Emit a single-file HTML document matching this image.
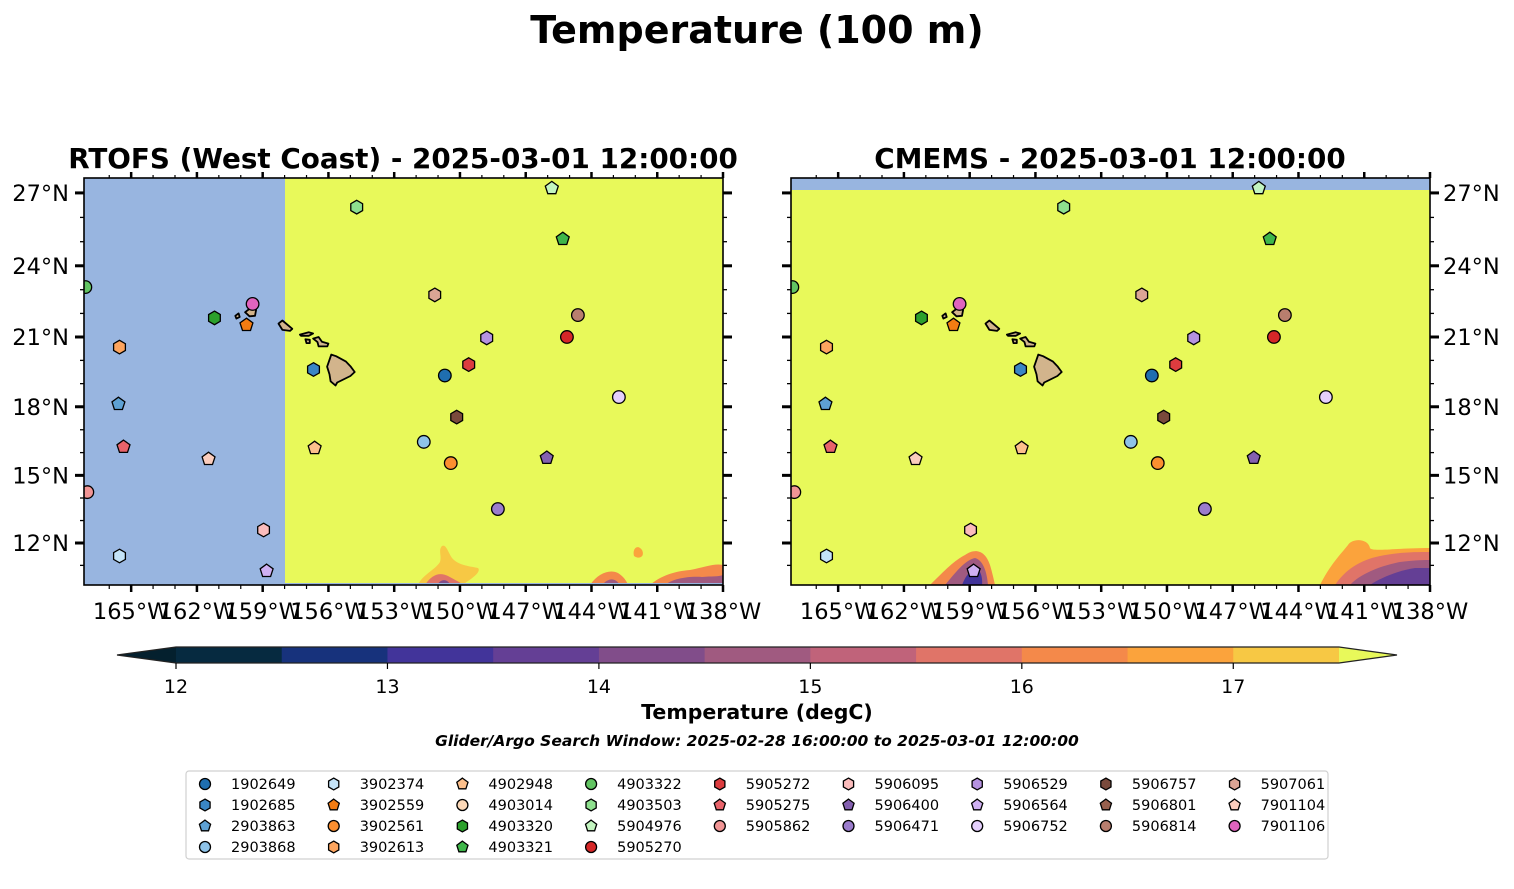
<!DOCTYPE html>
<html><head><meta charset="utf-8">
<style>
body{margin:0;background:#fff;}
svg{display:block;font-family:"DejaVu Sans","Liberation Sans",sans-serif;}
</style></head>
<body>
<svg id="fig" width="1514" height="889" viewBox="0 0 1514 889" xmlns="http://www.w3.org/2000/svg">
<text x="757" y="43" text-anchor="middle" font-size="38" font-weight="bold">Temperature (100 m)</text>
<text x="403" y="168" text-anchor="middle" font-size="27.8" font-weight="bold">RTOFS (West Coast) - 2025-03-01 12:00:00</text>
<text x="1110" y="168" text-anchor="middle" font-size="27.8" font-weight="bold">CMEMS - 2025-03-01 12:00:00</text>
<defs>
<clipPath id="clipL"><rect x="84" y="178" width="639" height="407"/></clipPath>
<clipPath id="clipR"><rect x="791" y="178" width="639" height="407"/></clipPath>
</defs>
<g id="mapL"></g>
<g id="mapR"></g>
<g id="cbar"></g>
<text x="757" y="719" text-anchor="middle" font-size="20.5" font-weight="bold">Temperature (degC)</text>
<text x="757" y="746" text-anchor="middle" font-size="15.5" font-weight="bold" font-style="italic">Glider/Argo Search Window: 2025-02-28 16:00:00 to 2025-03-01 12:00:00</text>
<rect x="186" y="771" width="1142" height="88" rx="3" fill="#fff" stroke="#d0d0d0" stroke-width="1.2"/>
<g id="legend"></g>
</svg>
<script>
const floatIds=["1902649","1902685","2903863","2903868","3902374","3902559","3902561","3902613","4902948","4903014","4903320","4903321","4903322","4903503","5904976","5905270","5905272","5905275","5905862","5906095","5906400","5906471","5906529","5906564","5906752","5906757","5906801","5906814","5907061","7901104","7901106"];
const floatLon=[-150.69,-156.68,-165.58,-151.65,-165.53,-159.74,-150.42,-165.53,-156.63,null,-161.2,-145.31,-167.09,-154.71,-145.81,-145.12,-149.6,-165.35,-167.0,-158.96,-146.04,-148.27,-148.78,-158.82,-142.75,-150.15,null,-144.62,-151.15,-161.47,-159.46];
const floatLat=[19.35,19.61,18.12,16.47,11.42,21.51,15.54,20.57,16.2,null,21.81,25.11,23.11,26.42,27.19,21.0,19.82,16.25,14.26,12.58,15.77,13.51,20.96,10.75,18.42,17.55,null,21.93,22.78,15.72,22.4];
const floatShape=["o","h","p","o","h","p","o","h","p","o","h","p","o","h","p","o","h","p","o","h","p","o","h","p","o","h","p","o","h","p","o"];
const floatColor=["#1f6eaf","#3a86c4","#5ea1d4","#8ec3e8","#c4e3f8","#f47c12","#fb8f30","#fda55f","#fdc08c","#fdd9b8","#2ca02c","#3fb64a","#62c462","#8ee08e","#c3f5c0","#d62728","#dc3c3f","#e8636a","#f19595","#fbbcbc","#8460b0","#9b7ccc","#b592e0","#cfb0f2","#e4cffc","#7a4a3c","#98604e","#b97e6e","#dba595","#fbcdbd","#e064be"];
const cbBounds=[12,12.5,13,13.5,14,14.5,15,15.5,16,16.5,17,17.5];
const cbColors=["#062a40","#17327c","#42349a","#643f95","#814d8a","#a05a80","#c0637a","#e07468","#f4894a","#fba33c","#f7c844"];
const cbTicks=[12,13,14,15,16,17];
const lonTicks=[-165,-162,-159,-156,-153,-150,-147,-144,-141,-138];
const latTicks=[12,15,18,21,24,27];
const islands=[
 [[-156.06,19.73],[-155.87,20.25],[-155.65,20.18],[-155.2,19.95],[-155.0,19.75],[-154.8,19.5],[-155.0,19.33],[-155.6,19.05],[-155.68,18.92],[-155.9,19.1],[-155.95,19.4]],
 [[-156.7,20.93],[-156.45,21.0],[-156.3,20.8],[-156.0,20.72],[-156.05,20.6],[-156.45,20.6],[-156.5,20.78]],
 [[-157.3,21.1],[-156.9,21.2],[-156.7,21.15],[-156.9,21.05],[-157.25,21.05]],
 [[-157.05,20.9],[-156.85,20.88],[-156.85,20.74],[-157.0,20.74]],
 [[-158.28,21.57],[-158.1,21.7],[-157.65,21.35],[-157.75,21.26],[-158.1,21.3]],
 [[-159.8,22.05],[-159.55,22.23],[-159.3,22.15],[-159.35,21.9],[-159.6,21.88]],
 [[-160.25,21.9],[-160.1,22.0],[-160.05,21.85],[-160.2,21.78]]
];
const NS='http://www.w3.org/2000/svg';
const svg=document.getElementById('fig');
function mk(tag,attrs,parent){const e=document.createElementNS(NS,tag);for(const k in attrs)e.setAttribute(k,attrs[k]);(parent||svg).appendChild(e);return e;}
const KX=21.92, KY=1256;
function merc(l){return Math.asinh(Math.tan(l*Math.PI/180));}
function px(lon,dx){return 723+dx+(lon+138)*KX;}
function py(lat){return 543-(merc(lat)-merc(12))*KY;}
function marker(shape,cx,cy,r,fill,parent){
  let el;
  if(shape==='o'){el=mk('circle',{cx:cx,cy:cy,r:r,fill:fill,stroke:'#000','stroke-width':1.3},parent);}
  else{const n=shape==='h'?6:5;const pts=[];for(let i=0;i<n;i++){const a=-Math.PI/2+i*2*Math.PI/n;pts.push((cx+r*1.08*Math.cos(a)).toFixed(1)+','+(cy+r*1.08*Math.sin(a)).toFixed(1));}
    el=mk('polygon',{points:pts.join(' '),fill:fill,stroke:'#000','stroke-width':1.3},parent);}
  return el;
}
function drawMap(g,dx,clip,isLeft){
  const inner=mk('g',{'clip-path':'url(#'+clip+')'},g);
  const x0=84+dx;
  if(isLeft){
    const b=mk('rect',{x:x0,y:178,width:639,height:407,fill:'#98b5e0'},inner);
    
    
    const xb=285;
    const y=mk('rect',{x:xb,y:178,width:723+dx-xb,height:405,fill:'#e8f95a'},inner);
    
    
    const blobs=[
      ['M418,585 C422,575 435,570 440,562 C442,556 438,550 442,546 C446,544 448,552 452,558 C458,565 468,566 478,568 C482,572 470,580 462,585Z','#f7c844'],
      ['M425,585 C432,574 440,572 448,576 C455,580 460,582 463,585Z','#e07468'],
      ['M437,585 C441,579 446,578 451,585Z','#814d8a'],
      ['M590,585 C598,573 610,569 618,573 C626,578 628,585 628,585Z','#f4894a'],
      ['M602,585 C608,578 615,577 620,585Z','#a05a80'],
      ['M650,585 C660,576 675,571 690,570 C705,567 715,563 723,565 L723,585Z','#f4894a'],
      ['M665,585 C672,579 688,576 702,577 C712,576 718,577 723,575 L723,585Z','#a05a80'],
      ['M634,556 C632,548 638,544 642,550 C645,556 640,560 634,556Z','#fba33c']
    ];
    blobs.forEach(b=>{const p=mk('path',{d:b[0],fill:b[1]},inner);});
    mk('rect',{x:xb,y:583,width:723-xb,height:2,fill:'#98b5e0'},inner);
  } else {
    const y=mk('rect',{x:x0,y:178,width:639,height:407,fill:'#e8f95a'},inner);
    
    
    const b=mk('rect',{x:x0,y:178,width:639,height:12,fill:'#98b5e0'},inner);
    
    
    const blobs=[
      ['M1320,585 C1330,565 1340,555 1348,545 C1352,538 1368,538 1370,548 C1372,552 1395,548 1430,548 L1430,585Z','#fba33c'],
      ['M1335,585 C1345,570 1360,560 1380,556 C1400,552 1415,552 1430,552 L1430,585Z','#e07468'],
      ['M1350,585 C1360,574 1380,566 1400,562 C1415,560 1425,560 1430,560 L1430,585Z','#a05a80'],
      ['M1370,585 C1380,578 1400,570 1415,568 L1430,568 L1430,585Z','#643f95'],
      ['M930,585 C945,570 955,560 965,555 C975,548 985,550 990,565 C993,575 995,585 995,585Z','#f4894a'],
      ['M945,585 C955,573 965,560 975,558 C983,560 987,572 988,585Z','#a05a80'],
      ['M962,585 C968,570 976,565 980,572 C983,578 982,585 982,585Z','#42349a']
    ];
    blobs.forEach(b=>{const p=mk('path',{d:b[0],fill:b[1]},inner);});
  }
  islands.forEach(isl=>{
    const d='M'+isl.map(p=>px(p[0],dx).toFixed(1)+','+py(p[1]).toFixed(1)).join('L')+'Z';
    const p=mk('path',{d:d,fill:'#d2b48c',stroke:'#000','stroke-width':1.8,'stroke-linejoin':'round'},inner);
    
    
  });
  for(let i=0;i<floatIds.length;i++){
    if(floatLon[i]===null)continue;
    const m=marker(floatShape[i],px(floatLon[i],dx),py(floatLat[i]),6.3,floatColor[i],inner);
    
    
  }
  const fr=mk('rect',{x:x0,y:178,width:639,height:407,fill:'none',stroke:'#000','stroke-width':1.6},g);
  
  
  for(let lon=-166;lon<=-138;lon++){
    const x=px(lon,dx);const major=lonTicks.includes(lon);
    mk('line',{x1:x,x2:x,y1:585,y2:585+(major?7:4),stroke:'#000','stroke-width':major?2.5:1.2},g);
    mk('line',{x1:x,x2:x,y1:178,y2:178-(major?6:3),stroke:'#000','stroke-width':major?2.5:1.2},g);
  }
  lonTicks.forEach(lon=>{
    const t=mk('text',{x:px(lon,dx),y:619,'text-anchor':'middle','font-size':22.5},g);
    t.textContent=Math.abs(lon)+'°W';
    
    
  });
  for(let lat=11;lat<=27;lat++){
    const y=py(lat);const major=latTicks.includes(lat);
    const L=major?9:4, w=major?3:1.3;
    mk('line',{x1:x0,x2:x0-L,y1:y,y2:y,stroke:'#000','stroke-width':w},g);
    mk('line',{x1:x0+639,x2:x0+639+L,y1:y,y2:y,stroke:'#000','stroke-width':w},g);
  }
  latTicks.forEach(lat=>{
    const t=mk('text',{x:isLeft?69:1443,y:py(lat)+8,'text-anchor':isLeft?'end':'start','font-size':22.5},g);
    t.textContent=lat+'°N';
    
    
  });
}
drawMap(document.getElementById('mapL'),0,'clipL',true);
drawMap(document.getElementById('mapR'),707,'clipR',false);
const cb=document.getElementById('cbar');
const cx0=176,cx1=1339,cy0=647,cy1=663;
function cbx(v){return cx0+(v-12)/(17.5-12)*(cx1-cx0);}
for(let i=0;i<cbColors.length;i++){
  const r=mk('rect',{x:cbx(cbBounds[i]),y:cy0,width:cbx(cbBounds[i+1])-cbx(cbBounds[i])+0.5,height:cy1-cy0,fill:cbColors[i]},cb);
  
  
}
mk('polygon',{points:`${cx0},${cy0} 117,655 ${cx0},${cy1}`,fill:'#04202e'},cb);
mk('polygon',{points:`${cx1},${cy0} 1397,655 ${cx1},${cy1}`,fill:'#e8f95a'},cb);
mk('polygon',{points:`117,655 ${cx0},${cy0} ${cx1},${cy0} 1397,655 ${cx1},${cy1} ${cx0},${cy1}`,fill:'none',stroke:'#222','stroke-width':1.2},cb);
cbTicks.forEach(v=>{
  mk('line',{x1:cbx(v),x2:cbx(v),y1:cy1,y2:cy1+6,stroke:'#000','stroke-width':1.2},cb);
  const t=mk('text',{x:cbx(v),y:693,'text-anchor':'middle','font-size':19},cb);
  t.textContent=v;
  
  
});
const lg=document.getElementById('legend');
for(let i=0;i<floatIds.length;i++){
  let col,row;
  if(i<16){col=Math.floor(i/4);row=i%4;}else{col=4+Math.floor((i-16)/3);row=(i-16)%3;}
  const mx=205+col*128.7,my=784+row*21;
  const m=marker(floatShape[i],mx,my,5.5,floatColor[i],lg);
  
  
  const t=mk('text',{x:mx+26,y:my+5,'font-size':14.5},lg);
  t.textContent=floatIds[i];
  
  
}
</script>
</body></html>
